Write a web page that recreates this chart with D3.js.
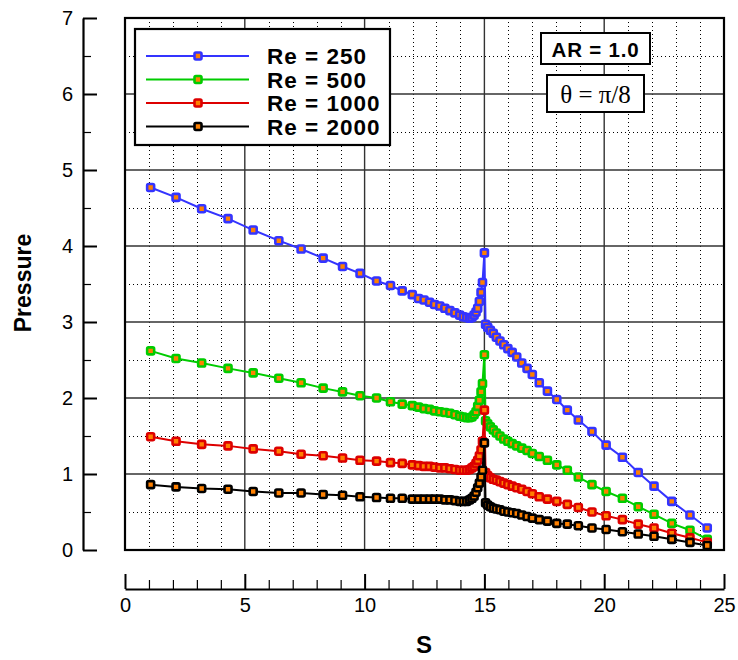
<!DOCTYPE html>
<html>
<head>
<meta charset="utf-8">
<script src="https://cdn.jsdelivr.net/npm/d3@7"></script>
<style>
  html, body { margin: 0; padding: 0; background: #fff; }
  svg { display: block; }
  text { font-family: "Liberation Sans", Arial, sans-serif; }
</style>
</head>
<body>
<svg id="chart" width="738" height="660"></svg>
<script>
// ---------- data ----------
const sValues = [
  1.07, 2.13, 3.2, 4.3, 5.35, 6.42, 7.35, 8.27, 9.08, 9.81, 10.5, 11.08, 11.57, 11.99,
  12.25, 12.48, 12.71, 12.92, 13.14, 13.35, 13.56, 13.77, 13.97, 14.12, 14.26, 14.38,
  14.48, 14.57, 14.65, 14.72, 14.79, 14.86, 14.92, 15.0,
  15.05, 15.14, 15.25, 15.37, 15.5, 15.65, 15.81, 15.98, 16.16, 16.35, 16.56, 16.78,
  17.0, 17.29, 17.63, 18.02, 18.46, 18.92, 19.49, 20.08, 20.76, 21.42, 22.08, 22.82,
  23.58, 24.3
];
const pRe250 = [
  4.77, 4.64, 4.49, 4.36, 4.21, 4.07, 3.96, 3.84, 3.73, 3.64, 3.54, 3.48, 3.41, 3.36,
  3.31, 3.29, 3.26, 3.23, 3.21, 3.18, 3.15, 3.12, 3.09, 3.07, 3.06, 3.05,
  3.06, 3.09, 3.13, 3.18, 3.27, 3.39, 3.52, 3.91,
  2.97, 2.93, 2.89, 2.85, 2.80, 2.75, 2.70, 2.65, 2.60, 2.54, 2.46, 2.39,
  2.31, 2.20, 2.09, 1.98, 1.84, 1.71, 1.56, 1.38, 1.22, 1.02, 0.84, 0.64,
  0.46, 0.29
];
const pRe500 = [
  2.62, 2.52, 2.46, 2.39, 2.33, 2.26, 2.20, 2.13, 2.08, 2.03, 2.00, 1.95, 1.92, 1.90,
  1.88, 1.86, 1.85, 1.83, 1.82, 1.81, 1.80, 1.78, 1.76, 1.75, 1.74, 1.74,
  1.75, 1.78, 1.82, 1.89, 1.97, 2.08, 2.19, 2.57,
  1.70, 1.66, 1.62, 1.58, 1.54, 1.50, 1.46, 1.43, 1.40, 1.37, 1.34, 1.31,
  1.27, 1.23, 1.18, 1.12, 1.05, 0.96, 0.86, 0.77, 0.68, 0.57, 0.47, 0.35,
  0.26, 0.14
];
const pRe1000 = [
  1.49, 1.43, 1.39, 1.37, 1.33, 1.30, 1.26, 1.24, 1.21, 1.18, 1.17, 1.15, 1.14, 1.12,
  1.11, 1.10, 1.10, 1.09, 1.08, 1.08, 1.07, 1.06, 1.05, 1.05, 1.05, 1.06,
  1.08, 1.10, 1.14, 1.18, 1.24, 1.32, 1.43, 1.84,
  1.02, 0.98, 0.95, 0.93, 0.92, 0.90, 0.88, 0.86, 0.84, 0.82, 0.80, 0.77,
  0.74, 0.70, 0.67, 0.64, 0.60, 0.56, 0.50, 0.45, 0.40, 0.34, 0.29, 0.22,
  0.16, 0.10
];
const pRe2000 = [
  0.86, 0.83, 0.81, 0.80, 0.77, 0.75, 0.75, 0.73, 0.72, 0.70, 0.69, 0.68, 0.68, 0.67,
  0.67, 0.67, 0.67, 0.67, 0.67, 0.66, 0.66, 0.65, 0.64, 0.64, 0.64, 0.66,
  0.68, 0.71, 0.76, 0.82, 0.88, 0.96, 1.05, 1.41,
  0.62, 0.59, 0.57, 0.55, 0.54, 0.53, 0.51, 0.50, 0.49, 0.48, 0.46, 0.44,
  0.42, 0.40, 0.38, 0.35, 0.34, 0.32, 0.29, 0.27, 0.24, 0.21, 0.18, 0.14,
  0.10, 0.06
];
const seriesNames = ["Re = 250", "Re = 500", "Re = 1000", "Re = 2000"];
const seriesColors = ["#3434ff", "#00cc00", "#dd0000", "#000000"];
const xTickValues = [0, 5, 10, 15, 20, 25];
const yTickValues = [0, 1, 2, 3, 4, 5, 6, 7];
const annotationAR = "AR = 1.0";
const annotationTheta = "\u03B8 = \u03C0/8";

// ---------- layout ----------
const svg = d3.select("#chart");
const pLeft = 125, pRight = 724, pTop = 18, pBottom = 550;
const x = d3.scaleLinear().domain([0, 25]).range([pLeft, pRight]);
const y = d3.scaleLinear().domain([0, 7]).range([pBottom, pTop]);
const markerFill = "#ff8000";

// grid
const minorX = d3.range(1, 25).filter(v => v % 5 !== 0);
const majorX = [5, 10, 15, 20];
const minorY = d3.range(0.5, 7, 1);
const majorY = [1, 2, 3, 4, 5, 6];
const grid = svg.append("g");
grid.selectAll(".mx").data(minorX).enter().append("line")
  .attr("x1", d => Math.round(x(d)) + 0.5).attr("x2", d => Math.round(x(d)) + 0.5)
  .attr("y1", pTop).attr("y2", pBottom)
  .attr("stroke", "#000").attr("stroke-width", 1).attr("stroke-dasharray", "1,3");
grid.selectAll(".my").data(minorY).enter().append("line")
  .attr("y1", d => Math.round(y(d)) + 0.5).attr("y2", d => Math.round(y(d)) + 0.5)
  .attr("x1", pLeft).attr("x2", pRight)
  .attr("stroke", "#000").attr("stroke-width", 1).attr("stroke-dasharray", "1,3");
grid.selectAll(".Mx").data(majorX).enter().append("line")
  .attr("x1", d => x(d)).attr("x2", d => x(d))
  .attr("y1", pTop).attr("y2", pBottom)
  .attr("stroke", "#333").attr("stroke-width", 1.4);
grid.selectAll(".My").data(majorY).enter().append("line")
  .attr("y1", d => y(d)).attr("y2", d => y(d))
  .attr("x1", pLeft).attr("x2", pRight)
  .attr("stroke", "#333").attr("stroke-width", 1.4);

// series
const allP = [pRe250, pRe500, pRe1000, pRe2000];
const line = d3.line().x(d => x(d[0])).y(d => y(d[1]));
const ms = 7;
allP.forEach((pv, i) => {
  const pts = sValues.map((s, j) => [s, pv[j]]);
  const g = svg.append("g");
  g.append("path").attr("d", line(pts)).attr("fill", "none")
    .attr("stroke", seriesColors[i]).attr("stroke-width", 2);
  g.selectAll("rect").data(pts).enter().append("rect")
    .attr("x", d => x(d[0]) - ms / 2).attr("y", d => y(d[1]) - ms / 2)
    .attr("width", ms).attr("height", ms).attr("rx", 1.4)
    .attr("fill", markerFill).attr("stroke", seriesColors[i]).attr("stroke-width", 2.6);
});

// frame
svg.append("rect").attr("x", pLeft).attr("y", pTop)
  .attr("width", pRight - pLeft).attr("height", pBottom - pTop)
  .attr("fill", "none").attr("stroke", "#000").attr("stroke-width", 2.2);

// legend
const lg = svg.append("g");
lg.append("rect").attr("x", 135).attr("y", 29).attr("width", 255).attr("height", 116)
  .attr("fill", "#fff").attr("stroke", "#000").attr("stroke-width", 2.2);
const rowY = [56, 79.5, 103, 126.5];
seriesNames.forEach((name, i) => {
  lg.append("line").attr("x1", 146).attr("x2", 249).attr("y1", rowY[i]).attr("y2", rowY[i])
    .attr("stroke", seriesColors[i]).attr("stroke-width", 2);
  lg.append("rect").attr("x", 198 - ms / 2).attr("y", rowY[i] - ms / 2)
    .attr("width", ms).attr("height", ms).attr("rx", 1.4)
    .attr("fill", markerFill).attr("stroke", seriesColors[i]).attr("stroke-width", 2.6);
  lg.append("text").attr("x", 267).attr("y", rowY[i] + 8)
    .attr("font-size", 22.5).attr("font-weight", "bold").attr("letter-spacing", 1)
    .text(name);
});

// annotations
svg.append("rect").attr("x", 541).attr("y", 33).attr("width", 109).attr("height", 31)
  .attr("fill", "#fff").attr("stroke", "#000").attr("stroke-width", 2);
svg.append("text").attr("x", 595.5).attr("y", 56.5).attr("text-anchor", "middle")
  .attr("font-size", 20.5).attr("font-weight", "bold").attr("letter-spacing", 0.8)
  .text(annotationAR);
svg.append("rect").attr("x", 547).attr("y", 75).attr("width", 97).attr("height", 37)
  .attr("fill", "#fff").attr("stroke", "#000").attr("stroke-width", 2);
svg.append("text").attr("x", 595.5).attr("y", 103).attr("text-anchor", "middle")
  .attr("font-size", 25).style("font-family", "'Liberation Serif', 'Times New Roman', serif")
  .text(annotationTheta);

// y axis (separate)
const yAxis = d3.axisLeft(y).tickValues(yTickValues).tickFormat(d3.format("d"))
  .tickSizeInner(-14).tickSizeOuter(0).tickPadding(10);
const yg = svg.append("g").attr("transform", "translate(83,0)").call(yAxis);
yg.select(".domain").attr("stroke-width", 2.2);
yg.selectAll(".tick line").attr("stroke-width", 2);
yg.selectAll(".tick text").attr("font-size", 20).style("font-family", "'Liberation Sans', Arial, sans-serif");
const yMinor = d3.axisLeft(y).tickValues(minorY).tickFormat("").tickSizeInner(-8).tickSizeOuter(0);
const ymg = svg.append("g").attr("transform", "translate(83,0)").call(yMinor);
ymg.select(".domain").remove();
ymg.selectAll(".tick line").attr("stroke-width", 1.2);

// x axis (separate)
const xAxis = d3.axisBottom(x).tickValues(xTickValues).tickFormat(d3.format("d"))
  .tickSizeInner(-15).tickSizeOuter(0).tickPadding(9);
const xg = svg.append("g").attr("transform", "translate(0,589)").call(xAxis);
xg.select(".domain").attr("stroke-width", 2.2);
xg.selectAll(".tick line").attr("stroke-width", 2);
xg.selectAll(".tick text").attr("font-size", 20).style("font-family", "'Liberation Sans', Arial, sans-serif");
const xMinor = d3.axisBottom(x).tickValues(minorX).tickFormat("").tickSizeInner(-9).tickSizeOuter(0);
const xmg = svg.append("g").attr("transform", "translate(0,589)").call(xMinor);
xmg.select(".domain").remove();
xmg.selectAll(".tick line").attr("stroke-width", 1.2);

// axis titles
svg.append("text").attr("x", 424).attr("y", 653).attr("text-anchor", "middle")
  .attr("font-size", 24).attr("font-weight", "bold").text("S");
svg.append("text").attr("transform", "translate(31,283) rotate(-90)")
  .attr("text-anchor", "middle").attr("font-size", 23).attr("font-weight", "bold")
  .text("Pressure");
</script>
</body>
</html>
